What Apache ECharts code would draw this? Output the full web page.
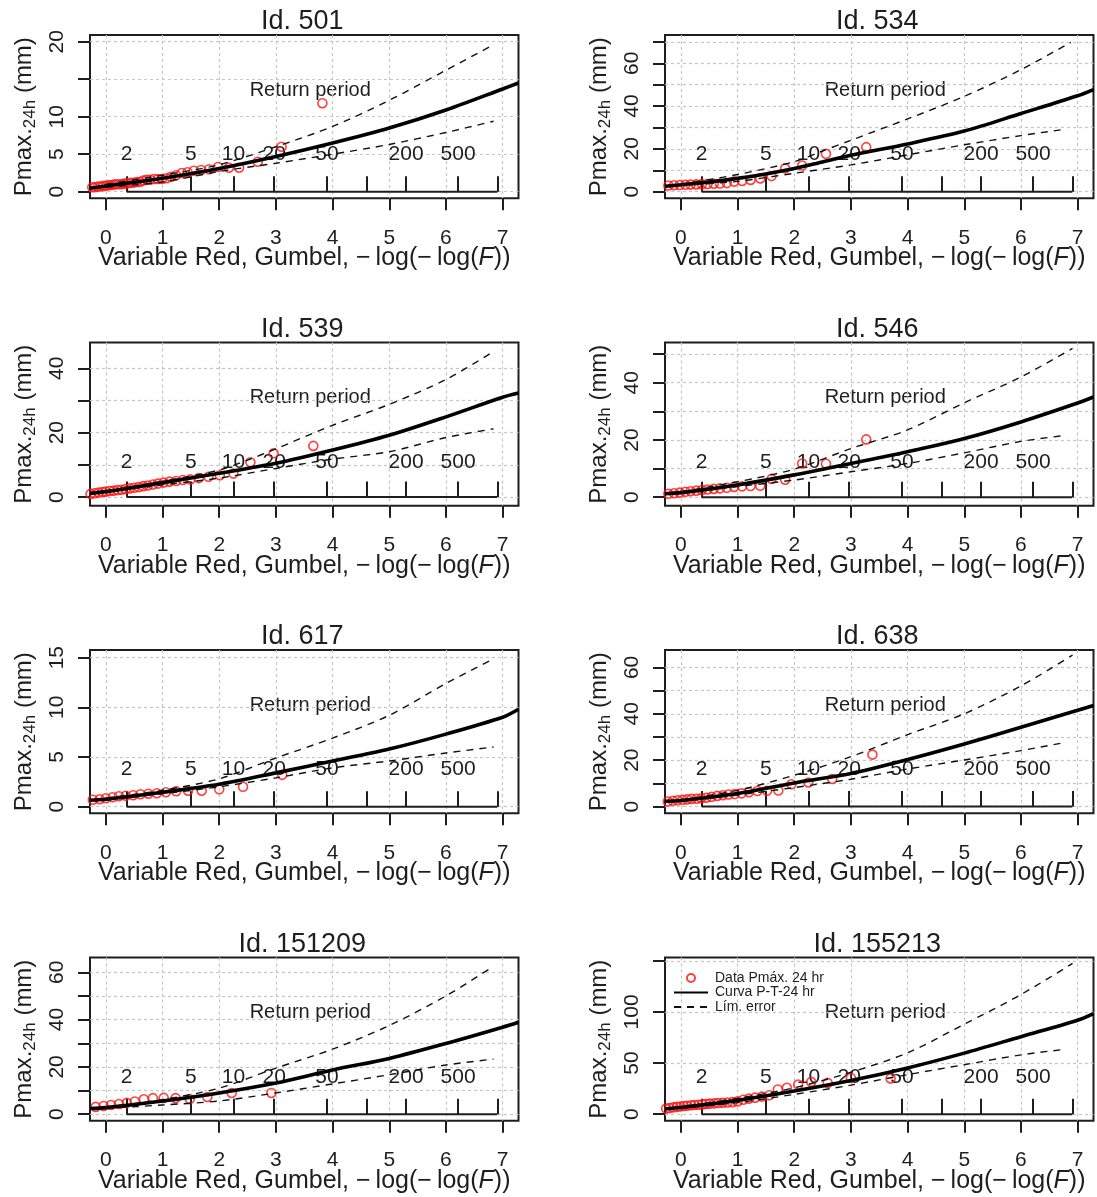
<!DOCTYPE html>
<html>
<head>
<meta charset="utf-8">
<script src="https://cdn.jsdelivr.net/npm/echarts@6/dist/echarts.min.js"></script>
<style>
html,body{margin:0;padding:0;background:#ffffff;}
#chart{width:1097px;height:1197px;}
</style>
</head>
<body>
<div id="chart"></div>
<script>
// ---------------- data ----------------
const panelIds = ['501', '534', '539', '546', '617', '638', '151209', '155213'];

const xTicks = [0, 1, 2, 3, 4, 5, 6, 7];
const xRange = [-0.28, 7.28];

const returnPeriods = [2, 5, 10, 20, 50, 100, 200, 500, 1000];
const returnPeriodLabels = [2, 5, 10, 20, 50, 200, 500];

// y axis ranges, ticks and labelled ticks per panel
const yRange501 = [-0.88, 20.9],   yTicks501 = [0, 5, 10, 15, 20],               yLabels501 = [0, 5, 10, 20];
const yRange534 = [-3.1, 73.2],    yTicks534 = [0, 10, 20, 30, 40, 50, 60, 70],  yLabels534 = [0, 20, 40, 60];
const yRange539 = [-2.7, 48.0],    yTicks539 = [0, 10, 20, 30, 40],              yLabels539 = [0, 20, 40];
const yRange546 = [-3.0, 54.05],   yTicks546 = [0, 10, 20, 30, 40, 50],          yLabels546 = [0, 20, 40];
const yRange617 = [-0.67, 15.77],  yTicks617 = [0, 5, 10, 15],                   yLabels617 = [0, 5, 10, 15];
const yRange638 = [-2.9, 67.5],    yTicks638 = [0, 10, 20, 30, 40, 50, 60],      yLabels638 = [0, 20, 40, 60];
const yRange151209 = [-2.78, 66.25], yTicks151209 = [0, 10, 20, 30, 40, 50, 60], yLabels151209 = [0, 20, 40, 60];
const yRange155213 = [-6.45, 153.2], yTicks155213 = [0, 50, 100, 150],           yLabels155213 = [0, 50, 100];

// observed annual maxima (reduced variate, Pmax 24h)
const points501 = [[3.82,11.8],[3.10,6.0],[2.68,4.0],[2.35,3.2],[2.17,3.2],[1.98,3.3],[1.82,3.0],[1.68,2.9],[1.55,2.8],[1.44,2.6],[1.34,2.5],[1.24,2.2],[1.15,2.0],[1.07,1.8],[0.99,1.7],[0.92,1.7],[0.85,1.7],[0.78,1.6],[0.72,1.6],[0.66,1.5],[0.60,1.3],[0.54,1.3],[0.48,1.2],[0.43,1.2],[0.37,1.1],[0.32,1.1],[0.27,1.0],[0.21,1.0],[0.16,1.0],[0.11,0.9],[0.06,0.9],[0.01,0.8],[-0.04,0.8],[-0.09,0.7],[-0.14,0.7],[-0.19,0.6],[-0.24,0.6]];
const points534 = [[3.27,20.8],[2.56,17.7],[2.14,12.2],[1.84,10.9],[1.60,7.3],[1.40,6.2],[1.23,5.5],[1.08,5.0],[0.94,4.7],[0.81,4.0],[0.69,3.8],[0.58,3.7],[0.47,3.6],[0.37,3.5],[0.27,3.4],[0.17,3.3],[0.08,3.2],[-0.02,3.1],[-0.12,3.0],[-0.22,2.9]];
const points539 = [[3.66,15.9],[2.96,13.6],[2.55,10.8],[2.25,7.3],[2.01,6.8],[1.81,6.3],[1.64,5.9],[1.49,5.5],[1.36,5.3],[1.24,5.0],[1.12,4.8],[1.02,4.5],[0.92,4.2],[0.83,3.9],[0.74,3.6],[0.66,3.4],[0.58,3.1],[0.50,2.9],[0.42,2.7],[0.35,2.5],[0.28,2.3],[0.21,2.2],[0.14,2.0],[0.07,1.9],[0.00,1.7],[-0.06,1.6],[-0.13,1.4],[-0.20,1.2],[-0.27,1.0]];
const points546 = [[3.27,20.2],[2.56,11.7],[2.14,11.8],[1.84,6.1],[1.60,6.4],[1.40,4.0],[1.23,3.9],[1.08,3.8],[0.94,3.6],[0.81,3.3],[0.69,3.1],[0.58,2.9],[0.47,2.7],[0.37,2.5],[0.27,2.3],[0.17,2.1],[0.08,1.9],[-0.02,1.6],[-0.12,1.4],[-0.22,1.2]];
const points617 = [[3.11,3.2],[2.42,2.0],[2.00,1.75],[1.69,1.6],[1.45,1.6],[1.24,1.55],[1.06,1.45],[0.90,1.35],[0.75,1.3],[0.61,1.25],[0.48,1.15],[0.35,1.1],[0.23,1.05],[0.12,0.95],[0.00,0.85],[-0.11,0.75],[-0.23,0.7]];
const points638 = [[3.38,22.4],[2.67,11.9],[2.25,10.4],[1.95,9.6],[1.72,6.9],[1.52,6.8],[1.35,6.7],[1.20,6.2],[1.07,5.7],[0.95,5.4],[0.84,5.2],[0.74,4.9],[0.64,4.6],[0.54,4.2],[0.45,3.8],[0.36,3.6],[0.28,3.4],[0.19,3.3],[0.11,3.1],[0.03,2.9],[-0.06,2.7],[-0.14,2.5],[-0.23,2.2]];
const points151209 = [[2.92,9.0],[2.22,9.0],[1.79,7.3],[1.48,6.4],[1.23,6.8],[1.02,6.9],[0.83,6.8],[0.67,6.3],[0.51,5.4],[0.37,4.8],[0.23,4.3],[0.09,3.9],[-0.04,3.5],[-0.18,3.1]];
const points155213 = [[3.70,35.0],[3.00,35.5],[2.59,30.6],[2.30,31.6],[2.07,29.0],[1.87,25.8],[1.71,24.2],[1.56,18.5],[1.43,17.2],[1.31,16.2],[1.20,15.2],[1.10,14.2],[1.00,12.5],[0.91,11.8],[0.82,11.5],[0.74,11.2],[0.66,11.0],[0.59,10.6],[0.51,10.3],[0.44,10.0],[0.38,9.6],[0.31,9.3],[0.24,9.0],[0.18,8.7],[0.11,8.3],[0.05,8.0],[-0.01,7.6],[-0.07,7.2],[-0.13,6.7],[-0.20,6.0],[-0.26,5.5]];

// fitted P-T curve
const fit501 = [[-0.28,0.45],[0,0.75],[1,1.8],[2,3.1],[3,4.7],[4,6.5],[5,8.5],[6,10.9],[7,13.7],[7.28,14.5]];
const fit534 = [[-0.28,2.5],[0,3.2],[0.5,4.5],[1,6.2],[1.5,8.3],[2,10.8],[2.5,13.9],[3,17.0],[4,22.3],[5,28.3],[6,36.5],[7,44.8],[7.28,47.7]];
const fit539 = [[-0.28,1.2],[0,1.7],[1,4.5],[2,7.4],[3,10.5],[4,14.6],[5,19.2],[6,24.9],[7,31.0],[7.28,32.3]];
const fit546 = [[-0.28,1.2],[0,1.6],[1,4.3],[2,7.8],[3,11.8],[4,15.9],[5,20.5],[6,26.3],[7,32.9],[7.28,35.0]];
const fit617 = [[-0.28,0.65],[0,0.75],[1,1.45],[2,2.25],[3,3.4],[4,4.6],[5,5.8],[6,7.3],[7,9.0],[7.28,9.8]];
const fit638 = [[-0.28,2.3],[0,2.6],[1,5.6],[2,10.2],[3,14.3],[4,20.3],[5,27.0],[6,34.2],[7,41.5],[7.28,43.6]];
const fit151209 = [[-0.28,2.4],[0,2.8],[1,5.6],[2,9.0],[3,13.2],[4,18.7],[5,23.6],[6,29.9],[7,36.8],[7.28,38.9]];
const fit155213 = [[-0.28,5.2],[0,6.5],[1,13.5],[2,22.6],[3,32.9],[4,45.2],[5,59.7],[6,75.8],[7,91.9],[7.28,98.4]];

// error limits (upper / lower)
const upper501 = [[0,1.0],[1,2.2],[2,3.6],[3,6.0],[4,8.7],[5,12.2],[6,16.2],[6.84,19.6]];
const lower501 = [[0,0.6],[1,1.3],[2,2.7],[3,3.8],[4,5.0],[5,6.3],[6,7.9],[6.84,9.4]];
const upper534 = [[0,3.5],[1,8.0],[2,14.0],[2.5,19.0],[3,24.0],[4,34.0],[5,44.5],[6,57.0],[6.88,69.8]];
const lower534 = [[0,3.0],[1,4.8],[2,8.6],[3,12.5],[4,17.2],[5,21.9],[6,26.2],[6.79,29.2]];
const upper539 = [[0,1.9],[1,4.9],[2,8.4],[2.5,11.5],[3,15.0],[4,22.3],[5,28.8],[6,36.5],[6.81,44.9]];
const lower539 = [[0,1.5],[1,3.8],[2,5.9],[3,8.9],[4,11.8],[5,14.1],[6,18.5],[6.84,21.2]];
const upper546 = [[0,1.9],[1,5.4],[2,9.8],[3,17.0],[4,23.5],[5,33.0],[6,42.0],[6.91,52.0]];
const lower546 = [[0,1.3],[1,3.7],[2,6.0],[3,8.9],[4,11.8],[5,15.5],[6,19.5],[6.79,21.6]];
const upper617 = [[0,0.85],[1,1.65],[2,2.8],[3,4.9],[4,6.9],[5,9.2],[6,12.4],[6.81,14.8]];
const lower617 = [[0,0.65],[1,1.3],[2,2.0],[3,2.9],[4,3.9],[5,4.6],[6,5.4],[6.84,6.0]];
const upper638 = [[0,2.9],[1,7.0],[2,13.5],[3,21.5],[4,31.0],[5,40.0],[6,52.0],[6.91,65.3]];
const lower638 = [[0,2.3],[1,5.0],[2,8.2],[3,11.8],[4,16.2],[5,20.1],[6,24.1],[6.79,27.7]];
const upper151209 = [[0,3.0],[1,6.2],[2,11.0],[3,19.5],[4,27.5],[5,37.5],[6,50.0],[6.81,62.1]];
const lower151209 = [[0,2.5],[1,3.9],[2,5.6],[3,9.0],[4,12.8],[5,16.7],[6,20.8],[6.84,23.3]];
const upper155213 = [[0,7.0],[1,15.5],[2,25.8],[3,41.0],[4,60.0],[5,88.0],[6,117.0],[6.91,147.4]];
const lower155213 = [[0,6.0],[1,11.3],[2,19.4],[3,28.4],[4,38.7],[5,48.4],[6,58.0],[6.79,63.5]];

// ---------------- assembly ----------------
const panels = [
  {id: panelIds[0], yRange: yRange501, yTicks: yTicks501, yLabels: yLabels501, pts: points501, fit: fit501, up: upper501, lo: lower501},
  {id: panelIds[1], yRange: yRange534, yTicks: yTicks534, yLabels: yLabels534, pts: points534, fit: fit534, up: upper534, lo: lower534},
  {id: panelIds[2], yRange: yRange539, yTicks: yTicks539, yLabels: yLabels539, pts: points539, fit: fit539, up: upper539, lo: lower539},
  {id: panelIds[3], yRange: yRange546, yTicks: yTicks546, yLabels: yLabels546, pts: points546, fit: fit546, up: upper546, lo: lower546},
  {id: panelIds[4], yRange: yRange617, yTicks: yTicks617, yLabels: yLabels617, pts: points617, fit: fit617, up: upper617, lo: lower617},
  {id: panelIds[5], yRange: yRange638, yTicks: yTicks638, yLabels: yLabels638, pts: points638, fit: fit638, up: upper638, lo: lower638},
  {id: panelIds[6], yRange: yRange151209, yTicks: yTicks151209, yLabels: yLabels151209, pts: points151209, fit: fit151209, up: upper151209, lo: lower151209},
  {id: panelIds[7], yRange: yRange155213, yTicks: yTicks155213, yLabels: yLabels155213, pts: points155213, fit: fit155213, up: upper155213, lo: lower155213}
];

const FONT = "'Liberation Sans', Arial, Helvetica, sans-serif";
const INK = '#1e1e1e';
const RED = '#ff1010';
const GRIDC = '#c6c6c6';
const GW = 428.5, GH = 163.3;
const COL_LEFT = [90, 665];
const ROW_TOP0 = 35, ROW_STEP = 307.5;

function gumbelVariate(T) { return -Math.log(-Math.log(1 - 1 / T)); }
const rpTickX = returnPeriods.map(gumbelVariate);
const rpLabelX = returnPeriodLabels.map(gumbelVariate);
function rpFormatter(v) {
  let best = returnPeriods[0], bd = Infinity;
  returnPeriods.forEach((T, k) => { const d = Math.abs(rpTickX[k] - v); if (d < bd) { bd = d; best = T; } });
  return String(best);
}
const rpSegment = [[rpTickX[0], 0], [rpTickX[rpTickX.length - 1], 0]];

const NAME_SERIES_PTS = 'Data Pmáx. 24 hr';
const NAME_SERIES_FIT = 'Curva P-T-24 hr';
const NAME_SERIES_ERR = 'Lím. error';

const grids = [], xAxes = [], yAxes = [], series = [], graphics = [];

panels.forEach((p, i) => {
  const col = i % 2, row = Math.floor(i / 2);
  const left = COL_LEFT[col];
  const top = ROW_TOP0 + ROW_STEP * row;
  grids.push({
    left: left, top: top, width: GW, height: GH,
    show: true, borderColor: INK, borderWidth: 2, backgroundColor: 'transparent',
    containLabel: false, outerBoundsMode: 'none'
  });
  // main reduced-variate axis
  xAxes.push({
    gridIndex: i, type: 'value', min: xRange[0], max: xRange[1], position: 'bottom',
    axisLine: {show: false, onZero: false},
    axisTick: {show: true, customValues: xTicks, length: 12, lineStyle: {color: INK, width: 2}},
    axisLabel: {show: true, customValues: xTicks, margin: 29, fontSize: 21, color: INK, fontFamily: FONT},
    splitLine: {show: true, lineStyle: {color: GRIDC, width: 1.2, type: [3, 3]}},
    name: '{n|Variable Red, Gumbel, \u2212\u2009log(\u2212\u2009log(}{i|F}{n|))}',
    nameLocation: 'middle', nameGap: 45, nameMoveOverlap: false,
    nameTextStyle: {
      color: INK, fontFamily: FONT, fontSize: 25,
      rich: {
        n: {fontSize: 25, color: INK, fontFamily: FONT, lineHeight: 30},
        i: {fontSize: 25, color: INK, fontFamily: FONT, fontStyle: 'italic', lineHeight: 30}
      }
    }
  });
  // inner return-period axis placed on y = 0
  xAxes.push({
    gridIndex: i, type: 'value', min: xRange[0], max: xRange[1], position: 'bottom',
    axisLine: {show: false, onZero: true},
    axisTick: {show: true, inside: true, customValues: rpTickX, length: 15.5, lineStyle: {color: INK, width: 2}},
    axisLabel: {show: true, inside: true, customValues: rpLabelX, formatter: rpFormatter, margin: 33.5, fontSize: 21, color: INK, fontFamily: FONT},
    splitLine: {show: false}
  });
  yAxes.push({
    gridIndex: i, type: 'value', min: p.yRange[0], max: p.yRange[1],
    axisLine: {show: false, onZero: false},
    axisTick: {show: true, customValues: p.yTicks, length: 12, lineStyle: {color: INK, width: 2}},
    axisLabel: {show: true, customValues: p.yLabels, rotate: 90, margin: 22, fontSize: 21, color: INK, fontFamily: FONT},
    splitLine: {show: true, lineStyle: {color: GRIDC, width: 1.2, type: [3, 3]}},
    name: '{a|Pmax.}{s|24h}{a| (mm)}',
    nameLocation: 'middle', nameRotate: 90, nameGap: 51, nameMoveOverlap: false,
    nameTextStyle: {
      color: INK, fontFamily: FONT, fontSize: 24,
      rich: {
        a: {fontSize: 24, color: INK, fontFamily: FONT, lineHeight: 30},
        s: {fontSize: 17, color: INK, fontFamily: FONT, lineHeight: 12, verticalAlign: 'bottom'}
      }
    }
  });

  const xi = 2 * i;
  series.push({
    name: NAME_SERIES_PTS, type: 'scatter', xAxisIndex: xi, yAxisIndex: i, data: p.pts,
    symbol: 'circle', symbolSize: 9, clip: true, z: 2,
    itemStyle: {color: 'rgba(255,255,255,0)', borderColor: RED, borderWidth: 1.6},
    emphasis: {disabled: true}
  });
  series.push({
    name: NAME_SERIES_FIT, type: 'line', xAxisIndex: xi, yAxisIndex: i, data: p.fit,
    smooth: 0.3, showSymbol: false, symbol: 'none', clip: true, z: 3,
    itemStyle: {color: '#000000'},
    lineStyle: {color: '#000000', width: 3.6}, emphasis: {disabled: true}
  });
  series.push({
    name: NAME_SERIES_ERR, type: 'line', xAxisIndex: xi, yAxisIndex: i, data: p.up,
    smooth: 0.3, showSymbol: false, symbol: 'none', clip: true, z: 3,
    itemStyle: {color: '#111111'},
    lineStyle: {color: '#111111', width: 1.4, type: [7, 6]}, emphasis: {disabled: true}
  });
  series.push({
    name: NAME_SERIES_ERR, type: 'line', xAxisIndex: xi, yAxisIndex: i, data: p.lo,
    smooth: 0.3, showSymbol: false, symbol: 'none', clip: true, z: 3,
    itemStyle: {color: '#111111'},
    lineStyle: {color: '#111111', width: 1.4, type: [7, 6]}, emphasis: {disabled: true}
  });
  series.push({
    name: 'rp-axis-' + p.id, type: 'line', xAxisIndex: xi, yAxisIndex: i, data: rpSegment,
    showSymbol: false, symbol: 'none', clip: true, z: 3, silent: true,
    itemStyle: {color: INK},
    lineStyle: {color: INK, width: 2}, emphasis: {disabled: true}
  });

  const cx = left + GW / 2;
  graphics.push({
    type: 'text', x: cx - 2, y: top - 13, silent: true,
    style: {text: 'Id. ' + p.id, fontSize: 27, fontFamily: FONT, fill: INK, align: 'center', verticalAlign: 'middle'}
  });
  graphics.push({
    type: 'text', x: cx + 6, y: top + 55, silent: true,
    style: {text: 'Return period', fontSize: 20, fontFamily: FONT, fill: INK, align: 'center', verticalAlign: 'middle'}
  });
});

const option = {
  animation: false,
  backgroundColor: '#ffffff',
  textStyle: {fontFamily: FONT},
  grid: grids,
  xAxis: xAxes,
  yAxis: yAxes,
  series: series,
  legend: {
    left: 668, top: 966, orient: 'vertical', selectedMode: false,
    itemWidth: 34, itemHeight: 8, itemGap: 0.5,
    data: [
      {name: NAME_SERIES_PTS, icon: 'circle'},
      {name: NAME_SERIES_FIT, itemStyle: {opacity: 0}},
      {name: NAME_SERIES_ERR, itemStyle: {opacity: 0}}
    ],
    lineStyle: {width: 2},
    textStyle: {fontSize: 14, fontFamily: FONT, color: INK, lineHeight: 14, padding: [0, 0, 0, 2]}
  },
  graphic: graphics
};

const chart = echarts.init(document.getElementById('chart'), null, {renderer: 'canvas'});
chart.setOption(option);
</script>
</body>
</html>
